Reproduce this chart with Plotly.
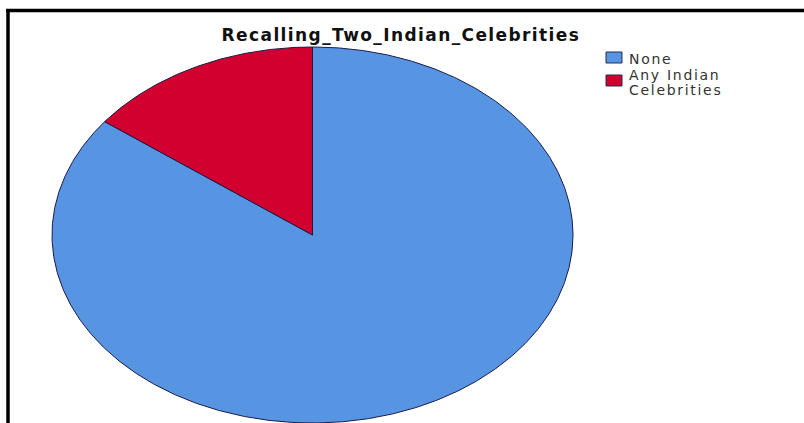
import numpy as np
import plotly.graph_objects as go

categories = ["None", "Any Indian<br>Celebrities"]
values = [85.3, 14.7]
colors = ["#5795e2", "#d2002e"]
title = "Recalling_Two_Indian_Celebrities"

W, H = 804, 423
cx, cy, rx, ry = 312.5, 235.0, 260.5, 188.0
FONT = "DejaVu Sans, Verdana, Arial"

fig = go.Figure()
total = sum(values)
start = 0.0
for cat, v, col in zip(categories, values, colors):
    f0, f1 = start / total, (start + v) / total
    t = np.linspace(f0, f1, max(int((f1 - f0) * 720), 8))
    ang = np.pi / 2 - 2 * np.pi * t
    xs = np.concatenate([[cx], cx + rx * np.cos(ang), [cx]])
    ys = np.concatenate([[cy], cy - ry * np.sin(ang), [cy]])
    fig.add_trace(go.Scatter(x=xs, y=ys, mode="lines", fill="toself",
                             fillcolor=col, line=dict(color="#1b1b4a", width=1),
                             name=cat.replace("<br>", " "), hoverinfo="name",
                             showlegend=False))
    start += v

# manual legend (square swatches like the source)
shapes = [
    dict(type="line", x0=8, x1=8, y0=9, y1=H, xref="x", yref="y", line=dict(color="black", width=3.5)),
    dict(type="line", x0=6, x1=W, y0=10.5, y1=10.5, xref="x", yref="y", line=dict(color="black", width=3.5)),
]
annotations = [dict(text="<b>" + title + "</b>", x=401, y=35, xref="x", yref="y",
                    showarrow=False, font=dict(family=FONT, size=17, color="#111"))]
sw_top = [52, 75]
for i, (cat, col) in enumerate(zip(categories, colors)):
    y0 = sw_top[i]
    shapes.append(dict(type="rect", x0=606, x1=622, y0=y0, y1=y0 + 11, xref="x", yref="y",
                       fillcolor=col, line=dict(color="#2a2a55", width=1)))
    lines = cat.split("<br>")
    for j, ln in enumerate(lines):
        ty = (58.5 if i == 0 else 75) + j * 15
        annotations.append(dict(text=ln, x=627, y=ty, xref="x", yref="y", xanchor="left",
                                align="left", yanchor="middle", showarrow=False,
                                font=dict(family=FONT, size=14, color="#333")))

fig.update_layout(
    width=W, height=H, margin=dict(l=0, r=0, t=0, b=0),
    paper_bgcolor="white", plot_bgcolor="white",
    xaxis=dict(range=[0, W], visible=False, fixedrange=True),
    yaxis=dict(range=[H, 0], visible=False, fixedrange=True),
    showlegend=False,
    annotations=annotations,
    shapes=shapes,
)

post = """
var gd = document.getElementById('{plot_id}');
function ls(){
  gd.querySelectorAll('.annotation-text').forEach(function(t){
    var s = t.textContent || '';
    t.style.letterSpacing = (s.indexOf('Recalling') === 0) ? '1.4px' : '1.7px';
  });
}
ls();
if (gd.on) { gd.on('plotly_afterplot', ls); }
"""
fig.write_html("out.html", post_script=post)
